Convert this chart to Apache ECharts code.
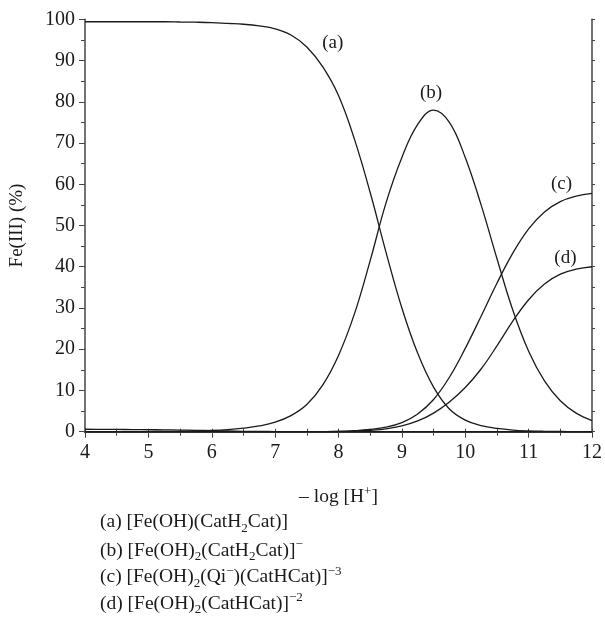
<!DOCTYPE html>
<html>
<head>
<meta charset="utf-8">
<script src="https://cdn.jsdelivr.net/npm/echarts@6/dist/echarts.min.js"></script>
<style>
  html, body { margin: 0; padding: 0; background: #fff; }
  #chart { width: 605px; height: 617px; }
</style>
</head>
<body>
<div id="chart"></div>
<script>
// -log[H+] grid, step 0.25
var pH = [4, 4.25, 4.5, 4.75, 5, 5.25, 5.5, 5.75, 6, 6.25, 6.5, 6.75, 7, 7.25, 7.5, 7.75,
          8, 8.25, 8.5, 8.75, 9, 9.25, 9.5, 9.75, 10, 10.25, 10.5, 10.75, 11, 11.25, 11.5, 11.75, 12];
// (a) [Fe(OH)(CatH2Cat)]
var speciesA = [99.4, 99.4, 99.4, 99.4, 99.4, 99.4, 99.35, 99.3, 99.2, 99.0, 98.8, 98.4, 97.7, 96.2, 93.3, 88.5,
                81.5, 71, 58, 43.5, 30, 19, 10.8, 5.5, 2.8, 1.5, 0.8, 0.4, 0.2, 0.1, 0.05, 0.02, 0];
// (b) [Fe(OH)2(CatH2Cat)]-
var speciesB = [0, 0, 0.01, 0.03, 0.05, 0.07, 0.1, 0.2, 0.3, 0.5, 0.85, 1.4, 2.3, 3.9, 6.6, 11.3,
                18.5, 28.5, 41.5, 55.5, 66.5, 74.5, 78, 75, 66.5, 55, 42, 29.5, 19.5, 12.3, 7.5, 4.5, 2.7];
// (c) [Fe(OH)2(Qi-)(CatHCat)]-3
var speciesC = [0, 0, 0, 0, 0, 0, 0, 0, 0, 0, 0, 0, 0, 0.01, 0.02, 0.03,
                0.08, 0.25, 0.55, 1.1, 2.2, 4.3, 7.8, 13.2, 20.2, 28, 36, 43.3, 49.2, 53.3, 55.8, 57.1, 57.8];
// (d) [Fe(OH)2(CatHCat)]-2
var speciesD = [0, 0, 0, 0, 0, 0, 0, 0, 0, 0, 0, 0, 0, 0, 0.01, 0.02,
                0.05, 0.15, 0.35, 0.7, 1.4, 2.6, 4.5, 7.2, 10.7, 15.2, 20.8, 26.8, 32, 35.8, 38.2, 39.4, 40];
// unlabelled minor species near the baseline
var speciesMinor = [0.6, 0.58, 0.55, 0.52, 0.5, 0.45, 0.4, 0.33, 0.25, 0.17, 0.1, 0.06, 0.03, 0.01, 0, 0,
                    0, 0, 0, 0, 0, 0, 0, 0, 0, 0, 0, 0, 0, 0, 0, 0, 0];

var curveLabels = ['(a)', '(b)', '(c)', '(d)'];
var labelSpots = [[7.91, 94.2], [9.46, 82.1], [11.52, 60], [11.58, 42]];

var FONT = 'Liberation Serif';
var INK = '#1a1a1a';

function pairs(ys) {
    var out = [];
    for (var i = 0; i < pH.length; i++) {
        out.push([pH[i], ys[i]]);
    }
    return out;
}

function curve(name, ys, idx) {
    var s = {
        name: name,
        type: 'line',
        data: pairs(ys),
        smooth: 0.4,
        showSymbol: false,
        silent: true,
        lineStyle: { color: INK, width: 1.3 },
        z: 3
    };
    if (idx != null) {
        s.markPoint = {
            symbol: 'circle',
            symbolSize: 1,
            itemStyle: { color: 'rgba(0,0,0,0)' },
            label: {
                show: true,
                position: 'inside',
                formatter: curveLabels[idx],
                color: INK,
                fontFamily: FONT,
                fontSize: 19
            },
            data: [{ coord: labelSpots[idx] }]
        };
    }
    return s;
}

var chart = echarts.init(document.getElementById('chart'));

var axisLine = { show: true, lineStyle: { color: '#444', width: 1.5 } };

var legendLines = [
    '(a) [Fe(OH)(CatH{sub|2}Cat)]',
    '(b) [Fe(OH){sub|2}(CatH{sub|2}Cat)]{sup|−}',
    '(c) [Fe(OH){sub|2}(Qi{sup|−})(CatHCat)]{sup|−3}',
    '(d) [Fe(OH){sub|2}(CatHCat)]{sup|−2}'
];

var richText = {
    sub: { fontFamily: FONT, fontSize: 13, color: INK, verticalAlign: 'bottom', lineHeight: 13, padding: [0, 0, -3, 0] },
    sup: { fontFamily: FONT, fontSize: 13, color: INK, verticalAlign: 'top', lineHeight: 13, padding: [-2, 0, 0, 0] }
};

var graphics = [];
for (var i = 0; i < legendLines.length; i++) {
    graphics.push({
        type: 'text',
        left: 100,
        top: 512 + i * 26.5,
        style: {
            text: legendLines[i],
            fontFamily: FONT,
            fontSize: 19.5,
            fill: INK,
            rich: richText
        }
    });
}

var option = {
    animation: false,
    backgroundColor: '#fff',
    grid: { left: 83.5, right: 11.5, top: 19.3, bottom: 185.3, containLabel: false },
    xAxis: [
        {
            type: 'value',
            min: 4,
            max: 12,
            interval: 1,
            name: '– log [H{sup|+}]',
            nameLocation: 'middle',
            nameGap: 55,
            nameTextStyle: { fontFamily: FONT, fontSize: 19.5, color: INK, rich: richText },
            axisLine: { show: true, lineStyle: { color: '#111', width: 2 } },
            axisTick: { show: true, length: 6, lineStyle: { color: '#444' } },
            minorTick: { show: true, splitNumber: 2, length: 4, lineStyle: { color: '#444' } },
            splitLine: { show: false },
            axisLabel: { fontFamily: FONT, fontSize: 20, color: INK, margin: 11 }
        },
        {
            type: 'value',
            position: 'top',
            min: 4,
            max: 12,
            interval: 1,
            axisLine: axisLine,
            axisTick: { show: true, length: 3, lineStyle: { color: '#444' } },
            minorTick: { show: true, splitNumber: 2, length: 3, lineStyle: { color: '#444' } },
            splitLine: { show: false },
            axisLabel: { show: false }
        }
    ],
    yAxis: [
        {
            type: 'value',
            min: 0,
            max: 100,
            interval: 10,
            name: 'Fe(III) (%)',
            nameLocation: 'middle',
            nameRotate: 90,
            nameGap: 58,
            nameTextStyle: { fontFamily: FONT, fontSize: 19, color: INK },
            axisLine: axisLine,
            axisTick: { show: true, length: 6, lineStyle: { color: '#444' } },
            minorTick: { show: true, splitNumber: 2, length: 4, lineStyle: { color: '#444' } },
            splitLine: { show: false },
            axisLabel: { fontFamily: FONT, fontSize: 20, color: INK, margin: 10 }
        },
        {
            type: 'value',
            position: 'right',
            min: 0,
            max: 100,
            interval: 10,
            axisLine: axisLine,
            axisTick: { show: true, length: 3, lineStyle: { color: '#444' } },
            minorTick: { show: true, splitNumber: 2, length: 3, lineStyle: { color: '#444' } },
            splitLine: { show: false },
            axisLabel: { show: false }
        }
    ],
    series: [
        curve('a', speciesA, 0),
        curve('b', speciesB, 1),
        curve('c', speciesC, 2),
        curve('d', speciesD, 3),
        curve('minor', speciesMinor, null)
    ],
    graphic: graphics
};

chart.setOption(option);
</script>
</body>
</html>
